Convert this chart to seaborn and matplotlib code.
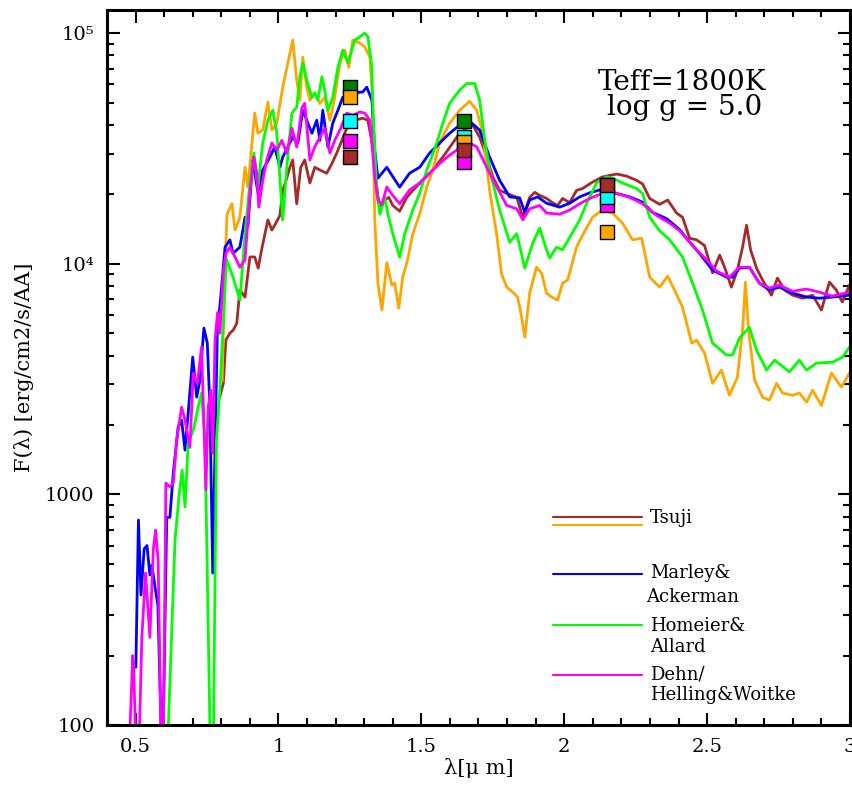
import pandas as pd
import matplotlib
matplotlib.use("Agg")
import matplotlib.pyplot as plt
import seaborn as sns

sns.set_style("ticks", {"axes.edgecolor": "black", "xtick.color": "black",
                        "ytick.color": "black", "text.color": "black",
                        "axes.labelcolor": "black"})
plt.rcParams["font.family"] = ["DejaVu Serif"]

# ---------------------------------------------------------------
# model spectra (wavelength in micron, flux)
# ---------------------------------------------------------------
tsuji_brown_x = [0.795, 0.807, 0.816, 0.830, 0.842, 0.854, 0.865, 0.883, 0.900, 0.917, 0.929, 0.941,
                 0.963, 0.977, 0.987, 1.005, 1.015, 1.029, 1.040, 1.050, 1.064, 1.078, 1.092, 1.110,
                 1.127, 1.145, 1.169, 1.187, 1.204, 1.222, 1.239, 1.267, 1.295, 1.313, 1.330, 1.344,
                 1.355, 1.372, 1.386, 1.400, 1.424, 1.449, 1.470, 1.505, 1.540, 1.575, 1.610, 1.634,
                 1.659, 1.680, 1.704, 1.729, 1.750, 1.774, 1.799, 1.834, 1.855, 1.879, 1.897, 1.914,
                 1.938, 1.959, 1.977, 1.994, 2.019, 2.043, 2.064, 2.099, 2.134, 2.183, 2.218, 2.253,
                 2.274, 2.299, 2.334, 2.362, 2.393, 2.414, 2.439, 2.463, 2.491, 2.519, 2.544, 2.561,
                 2.585, 2.606, 2.624, 2.638, 2.652, 2.673, 2.694, 2.725, 2.746, 2.771, 2.799, 2.834,
                 2.869, 2.900, 2.928, 2.952, 2.973, 2.998]
tsuji_brown_f = [2650, 3030, 4670, 5000, 5160, 5520, 7690, 7170, 10700, 10700, 9570, 11500,
                 15500, 14000, 14700, 16200, 20800, 23500, 26200, 28200, 18200, 26200, 28200, 22400,
                 26200, 25500, 24700, 27200, 30200, 34300, 38700, 41900, 42800, 41900, 32100, 21500,
                 17100, 18900, 19400, 17900, 16900, 19400, 20800, 23000, 25500, 29000, 33400, 36800,
                 38700, 39900, 35400, 29000, 23800, 20800, 20200, 19400, 15900, 19400, 20400, 19800,
                 19200, 18400, 17900, 19200, 18400, 20800, 21200, 22600, 23800, 24500, 24000, 23000,
                 22200, 19200, 18100, 18900, 16600, 15900, 12900, 12700, 12000, 9140, 10900, 9660,
                 7920, 9390, 11800, 14700, 11500, 9570, 8500, 7310, 8670, 7690, 7310, 7090,
                 7310, 6300, 8330, 7690, 6830, 8080]

tsuji_orange_x = [0.803, 0.812, 0.820, 0.837, 0.848, 0.865, 0.883, 0.893, 0.917, 0.928, 0.945, 0.963,
                  0.977, 0.994, 1.015, 1.033, 1.050, 1.064, 1.075, 1.085, 1.099, 1.110, 1.127, 1.145,
                  1.162, 1.180, 1.197, 1.215, 1.232, 1.246, 1.260, 1.285, 1.302, 1.320, 1.330, 1.337,
                  1.348, 1.362, 1.379, 1.397, 1.407, 1.421, 1.435, 1.452, 1.470, 1.494, 1.519, 1.540,
                  1.564, 1.599, 1.634, 1.669, 1.694, 1.715, 1.739, 1.764, 1.781, 1.799, 1.820, 1.837,
                  1.851, 1.862, 1.879, 1.903, 1.921, 1.938, 1.956, 1.977, 1.994, 2.012, 2.043, 2.064,
                  2.099, 2.134, 2.169, 2.204, 2.239, 2.271, 2.299, 2.334, 2.362, 2.386, 2.414, 2.446,
                  2.463, 2.491, 2.519, 2.550, 2.578, 2.606, 2.624, 2.634, 2.645, 2.666, 2.694, 2.718,
                  2.743, 2.764, 2.799, 2.823, 2.848, 2.869, 2.900, 2.935, 2.970, 2.998]
tsuji_orange_f = [3100, 9000, 16400, 18200, 14000, 15900, 26200, 21500, 45000, 36800, 38000, 50200,
                  38000, 40700, 58300, 74300, 93300, 62500, 51200, 78700, 58300, 51200, 55000, 49600,
                  52700, 41900, 52700, 74300, 84300, 71100, 93300, 90500, 87300, 78700, 49600, 15500,
                  8240, 6300, 10100, 8080, 8240, 6420, 8750, 10400, 13500, 16400, 21500, 25500,
                  33400, 40700, 46300, 50600, 46300, 36800, 20800, 13300, 8970, 7920, 7530, 7170,
                  5860, 4800, 7460, 9660, 9090, 7460, 7170, 6960, 8240, 8500, 11800, 13300,
                  15900, 17100, 16600, 15000, 12700, 12900, 8750, 7920, 8840, 7690, 6480, 4530,
                  4670, 4100, 3030, 3460, 2690, 3220, 5160, 8330, 5160, 3130, 2640, 2560,
                  3030, 2750, 2690, 2750, 2510, 2830, 2430, 3360, 2920, 3360]

marley_x = [0.501, 0.510, 0.519, 0.530, 0.540, 0.550, 0.557, 0.568, 0.578, 0.589, 0.594, 0.609,
            0.620, 0.632, 0.649, 0.661, 0.673, 0.684, 0.700, 0.714, 0.725, 0.739, 0.751, 0.760,
            0.770, 0.778, 0.786, 0.801, 0.813, 0.830, 0.841, 0.865, 0.883, 0.893, 0.910, 0.928,
            0.945, 0.970, 0.987, 1.005, 1.015, 1.033, 1.050, 1.068, 1.085, 1.099, 1.117, 1.134,
            1.145, 1.155, 1.173, 1.190, 1.208, 1.225, 1.260, 1.295, 1.309, 1.327, 1.337, 1.348,
            1.362, 1.379, 1.397, 1.424, 1.459, 1.494, 1.529, 1.564, 1.599, 1.634, 1.669, 1.704,
            1.739, 1.774, 1.809, 1.844, 1.862, 1.879, 1.907, 1.938, 1.984, 2.019, 2.054, 2.089,
            2.124, 2.169, 2.229, 2.274, 2.309, 2.358, 2.403, 2.428, 2.473, 2.519, 2.568, 2.589,
            2.613, 2.648, 2.683, 2.718, 2.753, 2.799, 2.848, 2.893, 2.938, 2.998]
marley_f = [178, 774, 366, 580, 600, 447, 494, 397, 331, 100, 60, 795,
            795, 1240, 1960, 2100, 1556, 2250, 3940, 2640, 3130, 5260, 4530, 2390,
            456, 1600, 5000, 7900, 11800, 12700, 11100, 11800, 15900, 14500, 28100, 20400,
            25500, 29000, 32100, 26200, 29000, 32100, 35400, 33400, 46300, 41900, 36800, 41900,
            34300, 46300, 32100, 40700, 46300, 52700, 55000, 55600, 58300, 51200, 31100, 23500,
            24700, 26200, 24200, 21500, 24700, 26200, 30200, 33400, 36800, 39900, 41500, 38000,
            29000, 23000, 19500, 19300, 16700, 18900, 19500, 18300, 17600, 18300, 19500, 20300,
            20900, 20400, 19500, 18500, 16700, 15700, 14100, 12900, 11100, 9390, 8750, 8750,
            9570, 9660, 8240, 7690, 7920, 7460, 7170, 7090, 7170, 7310]

homeier_x = [0.612, 0.638, 0.653, 0.663, 0.673, 0.684, 0.702, 0.719, 0.731, 0.743, 0.760, 0.766,
             0.772, 0.783, 0.795, 0.807, 0.818, 0.841, 0.865, 0.883, 0.900, 0.914, 0.928, 0.945,
             0.963, 0.980, 0.994, 1.012, 1.015, 1.029, 1.047, 1.064, 1.075, 1.085, 1.099, 1.117,
             1.127, 1.138, 1.152, 1.162, 1.173, 1.190, 1.208, 1.225, 1.243, 1.267, 1.285, 1.302,
             1.313, 1.327, 1.330, 1.344, 1.355, 1.372, 1.383, 1.400, 1.424, 1.442, 1.470, 1.494,
             1.519, 1.554, 1.575, 1.599, 1.634, 1.659, 1.687, 1.704, 1.722, 1.739, 1.774, 1.809,
             1.834, 1.862, 1.890, 1.914, 1.938, 1.949, 1.973, 1.994, 2.019, 2.054, 2.078, 2.113,
             2.148, 2.169, 2.204, 2.253, 2.274, 2.299, 2.334, 2.369, 2.404, 2.414, 2.449, 2.484,
             2.519, 2.568, 2.589, 2.613, 2.648, 2.673, 2.708, 2.736, 2.788, 2.823, 2.848, 2.883,
             2.938, 2.973, 2.998]
homeier_f = [80, 634, 1010, 1274, 883, 1670, 1900, 2390, 2750, 1720, 100, 60,
             80, 1720, 2830, 5550, 10500, 8750, 6960, 13500, 22400, 30200, 21500, 33400,
             41900, 46300, 36800, 17600, 15500, 26200, 45000, 47800, 64700, 74300, 62500, 52700,
             55000, 51200, 64700, 56600, 46300, 52700, 71100, 84300, 74300, 93300, 96400, 100000,
             96400, 71100, 47800, 20800, 16400, 19400, 16400, 13500, 10700, 13500, 17100, 20200,
             25500, 33400, 40700, 49600, 56600, 60500, 60500, 51200, 34300, 25500, 17100, 12400,
             13500, 9570, 12300, 14300, 11500, 10600, 11800, 11500, 13000, 15500, 18200, 22400,
             23800, 23500, 22400, 21200, 20200, 15900, 13900, 12700, 11100, 10700, 8240, 6300,
             4530, 4020, 4020, 4760, 5300, 4220, 3460, 3820, 3400, 3820, 3460, 3710,
             3740, 3930, 4340]

dehn_x = [0.478, 0.490, 0.494, 0.503, 0.512, 0.522, 0.535, 0.550, 0.562, 0.570, 0.579, 0.591,
          0.597, 0.606, 0.620, 0.632, 0.644, 0.661, 0.673, 0.690, 0.702, 0.716, 0.731, 0.746,
          0.754, 0.763, 0.770, 0.778, 0.787, 0.795, 0.807, 0.816, 0.830, 0.848, 0.865, 0.883,
          0.900, 0.914, 0.924, 0.931, 0.945, 0.959, 0.977, 0.994, 1.012, 1.029, 1.047, 1.064,
          1.082, 1.092, 1.110, 1.127, 1.145, 1.162, 1.180, 1.197, 1.215, 1.239, 1.260, 1.285,
          1.302, 1.320, 1.337, 1.348, 1.362, 1.379, 1.400, 1.424, 1.459, 1.494, 1.529, 1.564,
          1.599, 1.634, 1.669, 1.694, 1.729, 1.764, 1.799, 1.834, 1.855, 1.879, 1.914, 1.938,
          1.984, 2.019, 2.054, 2.089, 2.134, 2.183, 2.229, 2.274, 2.323, 2.369, 2.404, 2.449,
          2.498, 2.533, 2.578, 2.613, 2.648, 2.683, 2.718, 2.753, 2.799, 2.848, 2.893, 2.938,
          2.998]
dehn_f = [80, 200, 170, 60, 80, 240, 456, 240, 574, 700, 519, 60,
          80, 1120, 1080, 1120, 1720, 2390, 2100, 1600, 3350, 3030, 4360, 1044,
          2390, 2830, 1510, 4670, 6150, 5000, 9140, 11100, 11800, 10700, 9660, 10400,
          20200, 29000, 24700, 17600, 23000, 28200, 33400, 31100, 34300, 30200, 38700, 32100,
          47500, 49600, 28200, 32100, 35400, 38700, 30200, 34300, 38000, 45000, 44100, 45500,
          45000, 41900, 23700, 18900, 18100, 21500, 19800, 18200, 20900, 22400, 24700, 27200,
          29600, 31700, 33400, 32100, 26200, 21500, 17900, 17300, 15500, 17300, 17900, 16600,
          16400, 17100, 18200, 19200, 20200, 20200, 19400, 18200, 16200, 15000, 13900, 12000,
          10400, 9300, 8750, 9660, 9660, 8240, 7850, 8080, 7600, 7770, 7530, 7240,
          7530]

# photometric points (squares) at J, H, K
band_x = [1.25, 1.65, 2.15]
sq_green = [58300, 41500, 22000]
sq_magenta = [34000, 27600, 18000]
sq_cyan = [41500, 35500, 19500]
sq_orange = [53000, 33800, 13700]
sq_brown = [29000, 31100, 22000]

fig = plt.figure(figsize=(8.52, 7.88), dpi=100)
ax = fig.add_axes([107 / 852, 63 / 788, 743 / 852, 715 / 788])

curves = [
    (tsuji_brown_x, tsuji_brown_f, "#a52a2a"),
    (tsuji_orange_x, tsuji_orange_f, "#ffa500"),
    (marley_x, marley_f, "#0000ff"),
    (homeier_x, homeier_f, "#00ff00"),
    (dehn_x, dehn_f, "#ff00ff"),
]
for xs, fs, col in curves:
    df = pd.DataFrame({"wl": xs, "flux": fs})
    sns.lineplot(data=df, x="wl", y="flux", color=col, lw=2.0, ax=ax,
                 estimator=None, sort=False)

squares = [
    (sq_green, "#008000"),
    (sq_magenta, "#ff00ff"),
    (sq_cyan, "#00ffff"),
    (sq_orange, "#ffa500"),
    (sq_brown, "#a52a2a"),
]
for fs, col in squares:
    sns.scatterplot(x=band_x, y=fs, marker="s", s=100, color=col,
                    edgecolor="black", linewidth=1.0, ax=ax, zorder=5)

ax.set_yscale("log")
ax.set_xlim(0.4, 3.0)
ax.set_ylim(100, 1.26e5)

ax.set_xticks([0.5, 1, 1.5, 2, 2.5, 3])
ax.set_xticklabels(["0.5", "1", "1.5", "2", "2.5", "3"])
ax.xaxis.set_minor_locator(matplotlib.ticker.MultipleLocator(0.1))
ax.set_yticks([100, 1000, 1e4, 1e5])
ax.set_yticklabels(["100", "1000", "10⁴", "10⁵"])
ax.yaxis.set_minor_locator(matplotlib.ticker.LogLocator(base=10, subs=range(2, 10)))
ax.yaxis.set_minor_formatter(matplotlib.ticker.NullFormatter())

ax.tick_params(which="both", direction="in", top=True, right=True, width=1.5,
               labelsize=14, colors="black")
ax.tick_params(which="major", length=9)
ax.tick_params(which="minor", length=5)
ax.tick_params(axis="x", pad=9)
ax.tick_params(axis="y", pad=9)
for sp in ax.spines.values():
    sp.set_linewidth(2.2)
    sp.set_color("black")

ax.set_xlabel("λ[μ m]", fontsize=15, labelpad=2)
ax.set_ylabel("F(λ) [erg/cm2/s/AA]", fontsize=15, labelpad=8)

ax.text(0.774, 0.899, "Teff=1800K", transform=ax.transAxes, fontsize=20,
        ha="center", va="center")
ax.text(0.778, 0.863, "log g = 5.0", transform=ax.transAxes, fontsize=20,
        ha="center", va="center")

# hand-made legend
leg_lines = [
    (0.291, "#a52a2a"),
    (0.280, "#ffa500"),
    (0.211, "#0000ff"),
    (0.140, "#00ff00"),
    (0.070, "#ff00ff"),
]
for yy, col in leg_lines:
    ax.plot([0.600, 0.720], [yy, yy], color=col, lw=1.5, transform=ax.transAxes)
leg_text = [
    (0.731, 0.289, "Tsuji"),
    (0.731, 0.212, "Marley&"),
    (0.726, 0.179, "Ackerman"),
    (0.731, 0.139, "Homeier&"),
    (0.731, 0.109, "Allard"),
    (0.731, 0.070, "Dehn/"),
    (0.731, 0.042, "Helling&Woitke"),
]
for xx, yy, t in leg_text:
    ax.text(xx, yy, t, transform=ax.transAxes, fontsize=13, ha="left", va="center")

fig.savefig("out.png", dpi=100)
